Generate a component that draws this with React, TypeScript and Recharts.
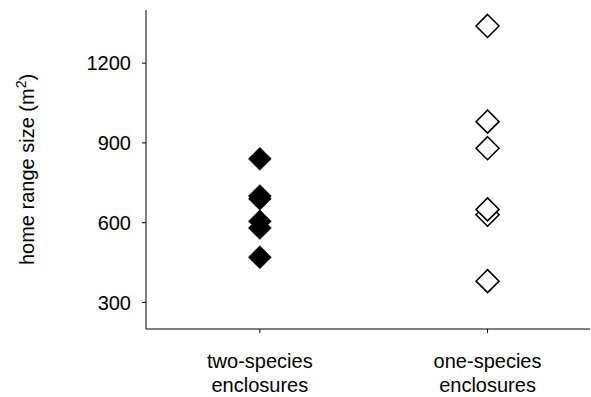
import React from 'react';
import { ScatterChart, Scatter, XAxis, YAxis } from 'recharts';

// group positions on the x axis and their labels
const groupX = [1, 2];
const groupLabels = [
  ['two-species', 'enclosures'],
  ['one-species', 'enclosures'],
];

// home range sizes (m²)
const twoSpecies = [840, 700, 690, 605, 580, 470];
const oneSpecies = [1340, 980, 880, 630, 650, 380];

const yTicks = [300, 600, 900, 1200];

const FONT = '"Liberation Sans", Arial, sans-serif';

const twoData = twoSpecies.map((v) => ({ x: groupX[0], y: v }));
const oneData = oneSpecies.map((v) => ({ x: groupX[1], y: v }));

const R = 11.5;

function Diamond(props: any) {
  const { cx, cy, filled } = props;
  const pts = `${cx},${cy - R} ${cx + R},${cy} ${cx},${cy + R} ${cx - R},${cy}`;
  return filled ? (
    <polygon points={pts} fill="#000" stroke="#000" strokeWidth={0.5} />
  ) : (
    <polygon points={pts} fill="#fff" stroke="#000" strokeWidth={1.6} />
  );
}

function GroupTick(props: any) {
  const { x, y, payload } = props;
  const idx = groupX.indexOf(payload.value);
  const lines = groupLabels[idx] || [];
  return (
    <text x={x} y={y} textAnchor="middle" fontSize={20} fontFamily={FONT} fill="#000">
      {lines.map((l, i) => (
        <tspan key={i} x={x} dy={i === 0 ? 33 : 24}>
          {l}
        </tspan>
      ))}
    </text>
  );
}

function YLabel(props: any) {
  const vb = props.viewBox || { x: 0, y: 0, height: 0 };
  const cx = 34;
  const cy = vb.y + vb.height / 2;
  return (
    <text
      x={cx}
      y={cy}
      transform={`rotate(-90 ${cx} ${cy})`}
      textAnchor="middle"
      fontSize={20}
      fontFamily={FONT}
      fill="#000"
    >
      home range size (m
      <tspan fontSize={14} dy={-8}>2</tspan>
      <tspan dy={8}>)</tspan>
    </text>
  );
}

export default function App() {
  return (
    <div style={{ position: 'absolute', left: 0, top: 0, background: '#fff' }}>
      <ScatterChart width={591} height={397} margin={{ top: 10, right: 1, bottom: 0, left: 0 }}>
        <XAxis
          type="number"
          dataKey="x"
          domain={[0.5, 2.45]}
          ticks={groupX}
          tick={<GroupTick />}
          tickSize={4}
          height={68}
          axisLine={{ stroke: '#000', strokeWidth: 1 }}
          tickLine={{ stroke: '#000' }}
          interval={0}
        />
        <YAxis
          type="number"
          dataKey="y"
          domain={[200, 1400]}
          ticks={yTicks}
          width={146}
          tickSize={4}
          tickMargin={11}
          axisLine={{ stroke: '#000', strokeWidth: 1 }}
          tickLine={{ stroke: '#000' }}
          tick={{ fill: '#000', fontSize: 20, fontFamily: FONT }}
          label={{ content: <YLabel /> }}
        />
        <Scatter data={twoData} shape={<Diamond filled />} isAnimationActive={false} />
        <Scatter data={oneData} shape={<Diamond />} isAnimationActive={false} />
      </ScatterChart>
    </div>
  );
}
